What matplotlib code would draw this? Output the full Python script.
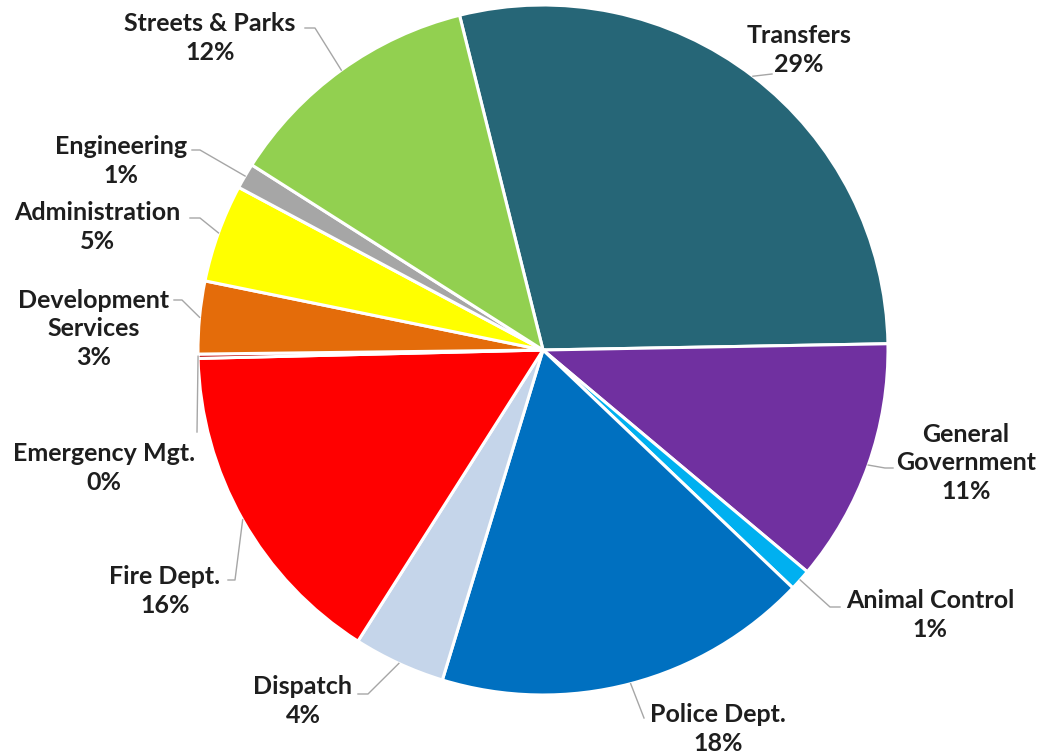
import matplotlib.pyplot as plt
import numpy as np

plt.rcParams['font.family'] = ['Lato', 'DejaVu Sans']

# data (share of budget, percent)
names = ['Transfers', 'General\nGovernment', 'Animal Control', 'Police Dept.',
         'Dispatch', 'Fire Dept.', 'Emergency Mgt.', 'Development\nServices',
         'Administration', 'Engineering', 'Streets & Parks']
shares = [28.6, 11.4, 1.0, 17.6, 4.3, 15.6, 0.2, 3.4, 4.6, 1.2, 12.1]
pct_labels = ['29%', '11%', '1%', '18%', '4%', '16%', '0%', '3%', '5%', '1%', '12%']
colors = ['#266677', '#7030A0', '#00B0F0', '#0070C0', '#C5D5EA', '#FF0000',
          '#C00000', '#E46C0A', '#FFFF00', '#A6A6A6', '#92D050']

# layout: label centres and leader elbow points, in pixels of the 1041x755 image
cx, cy, R = 543, 350, 345
label_pos = [(799, 50), (966, 463), (930, 615), (718, 729), (303, 701), (165, 591),
             (104, 468), (94, 329), (97, 227), (121, 161), (210, 38)]
elbows = [[(772, 74)],
          [(885, 468), (893, 468)],
          [(830, 607), (840, 607)],
          [(644, 718)],
          [(368, 694), (358, 694)],
          [(235, 580), (228, 580)],
          [(197, 432)],
          [(182, 300), (174, 300)],
          [(200, 218), (190, 218)],
          [(200, 150), (192, 150)],
          [(315, 28), (305, 28)]]


def px(p):
    return ((p[0] - cx) / R, (cy - p[1]) / R)


fig = plt.figure(figsize=(10.41, 7.55), dpi=100)
ax = fig.add_axes([0, 0, 1, 1])

wedges, _ = ax.pie(shares, colors=colors, startangle=104, counterclock=False,
                   radius=1.0, wedgeprops=dict(edgecolor='white', linewidth=2.2))

ax.set_xlim(-cx / R, (1041 - cx) / R)
ax.set_ylim(-(755 - cy) / R, cy / R)
ax.set_aspect('equal')
ax.axis('off')

for w, name, pct, lp, el in zip(wedges, names, pct_labels, label_pos, elbows):
    mid = np.deg2rad((w.theta1 + w.theta2) / 2)
    pts = [(np.cos(mid), np.sin(mid))] + [px(p) for p in el]
    xs, ys = zip(*pts)
    ax.plot(xs, ys, color='#A6A6A6', lw=1)
    x, y = px(lp)
    ax.text(x, y, name + '\n' + pct, ha='center', va='center', fontsize=18,
            fontweight='bold', color='#1E1E1E', linespacing=1.28)

fig.savefig('out.png', dpi=100, facecolor='white')
